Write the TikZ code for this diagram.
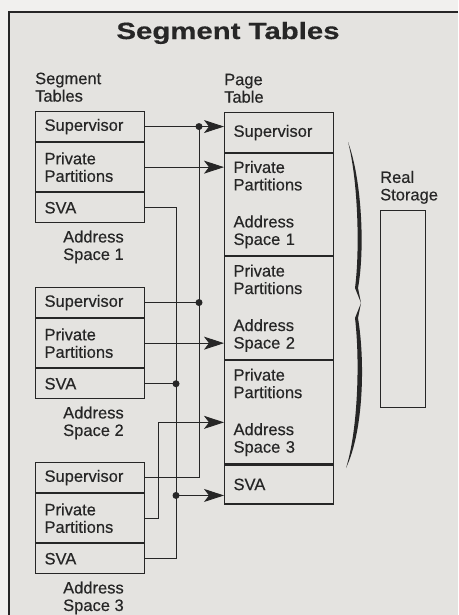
\documentclass[tikz,border=0pt]{standalone}
\usepackage{fontspec}
\setmainfont{Liberation Sans}[FakeBold=0.4]
\usepackage{graphicx}
\usepackage{xcolor}
\usetikzlibrary{positioning, arrows.meta}

\definecolor{paper}{HTML}{F1F0EE}
\definecolor{panel}{HTML}{E4E3E0}
\definecolor{ink}{HTML}{262626}

\begin{document}
\begin{tikzpicture}[
        x=1pt, y=-1pt,
        % 表格行样式
        cell/.style={
            rectangle,
            draw=ink,
            line width=1.1pt,
            minimum width=109pt,
            text width=91pt,
            inner xsep=9pt,
            inner ysep=0pt,
            align=left,
            text=ink,
            font=\fontsize{16.5}{17.5}\selectfont
        },
        short/.style={cell, minimum height=30pt},
        tall/.style={cell, minimum height=49pt},
        % 连线样式
        wire/.style={
            draw=ink,
            line width=0.9pt
        },
        arrow/.style={
            wire,
            -{Stealth[length=20pt, width=13pt, inset=5pt]}
        },
        % 连接点
        dot/.style={
            circle,
            fill=ink,
            inner sep=0pt,
            minimum size=7pt
        },
        % 标签文字样式
        label_text/.style={
            font=\fontsize{16.5}{17.5}\selectfont,
            text=ink,
            align=left,
            inner sep=0pt
        }
    ]

    % 背景与边框
    \useasboundingbox (0,0) rectangle (458,615);
    \fill[paper] (0,0) rectangle (458,615);
    \fill[panel] (9,12) rectangle (458,615);
    \draw[ink, line width=1.5pt] (458,12) -- (9,12) -- (9,615);

    % 标题
    \node[text=ink, font=\fontsize{23.5}{26}\selectfont\bfseries] (title) at (228,33)
        {\scalebox{1.25}[1]{Segment Tables}};

    % 1. 左侧段表 (从上到下)
    \node[short, anchor=north west] (s1sup) at (35,111) {Supervisor};
    \node[tall, below=0pt of s1sup] (s1pp) {Private\\Partitions};
    \node[short, below=0pt of s1pp] (s1sva) {SVA};
    \node[label_text, below right=7pt and 28pt of s1sva.south west] (as1) {Address\\Space 1};

    \node[short, anchor=north west] (s2sup) at (35,287) {Supervisor};
    \node[tall, below=0pt of s2sup] (s2pp) {Private\\Partitions};
    \node[short, below=0pt of s2pp] (s2sva) {SVA};
    \node[label_text, below right=7pt and 28pt of s2sva.south west] (as2) {Address\\Space 2};

    \node[short, anchor=north west] (s3sup) at (35,462) {Supervisor};
    \node[tall, below=0pt of s3sup] (s3pp) {Private\\Partitions};
    \node[short, below=0pt of s3pp] (s3sva) {SVA};
    \node[label_text, below right=7pt and 28pt of s3sva.south west] (as3) {Address\\Space 3};

    \node[label_text, above right=9pt and 0pt of s1sup.north west] (seglbl) {Segment\\Tables};

    % 2. 页表
    \node[cell, minimum height=40pt, anchor=north west] (psup) at (224,112) {Supervisor};
    \node[cell, minimum height=102pt, below=0pt of psup] (pt1) {Private\\Partitions\\[19.5pt]Address\\Space 1};
    \node[cell, minimum height=103pt, below=0pt of pt1] (pt2) {Private\\Partitions\\[19.5pt]Address\\Space 2};
    \node[cell, minimum height=103pt, below=0pt of pt2] (pt3) {Private\\Partitions\\[19.5pt]Address\\Space 3};
    \node[cell, minimum height=39pt, below=0pt of pt3] (psva) {SVA};

    \node[label_text, above right=9pt and 0pt of psup.north west] (pglbl) {Page\\Table};

    % 3. 实存储器与花括号
    \node[draw=ink, line width=1.1pt, minimum width=45pt, minimum height=197pt,
        anchor=north west] (rs) at (380,210) {};
    \node[label_text, above right=6pt and 0pt of rs.north west] (rslbl) {Real\\Storage};

    \fill[ink] (348,142) .. controls (362,180) and (365,250) .. (358,288) -- (361,303)
        -- (355,288) .. controls (360,250) and (358,180) .. (348,142) -- cycle;
    \fill[ink] (361,303) -- (358,318) .. controls (365,360) and (364,430) .. (346,468)
        .. controls (358,430) and (360,360) .. (355,318) -- cycle;

    % 4. 连线
    \coordinate (supx) at (199,0);
    \coordinate (svax) at (176,0);
    \coordinate (ppx) at (158,0);
    \coordinate (pp3in) at ([yshift=-10pt]pt3.west);
    \coordinate (svain) at ([yshift=-11pt]psva.west);

    \node[dot] (d1) at (s1sup.east -| supx) {};
    \node[dot] (d2) at (s2sup.east -| supx) {};
    \node[dot] (d3) at (s2sva.east -| svax) {};
    \node[dot] (d4) at (svain -| svax) {};

    % Supervisor
    \draw[arrow] (s1sup.east) -- (s1sup.east -| psup.west);
    \draw[wire] (d1.center) |- (s3sup.east);
    \draw[wire] (s2sup.east) -- (d2.center);

    % Private Partitions
    \draw[arrow] (s1pp.east) -- (s1pp.east -| pt1.west);
    \draw[arrow] (s2pp.east) -- (s2pp.east -| pt2.west);
    \draw[arrow] (s3pp.east) -| (ppx |- pp3in) -- (pp3in);

    % SVA
    \draw[wire] (s1sva.east) -| (s3sva.east -| svax) -- (s3sva.east);
    \draw[wire] (s2sva.east) -- (d3.center);
    \draw[arrow] (d4.center) -- (svain);

\end{tikzpicture}
\end{document}
